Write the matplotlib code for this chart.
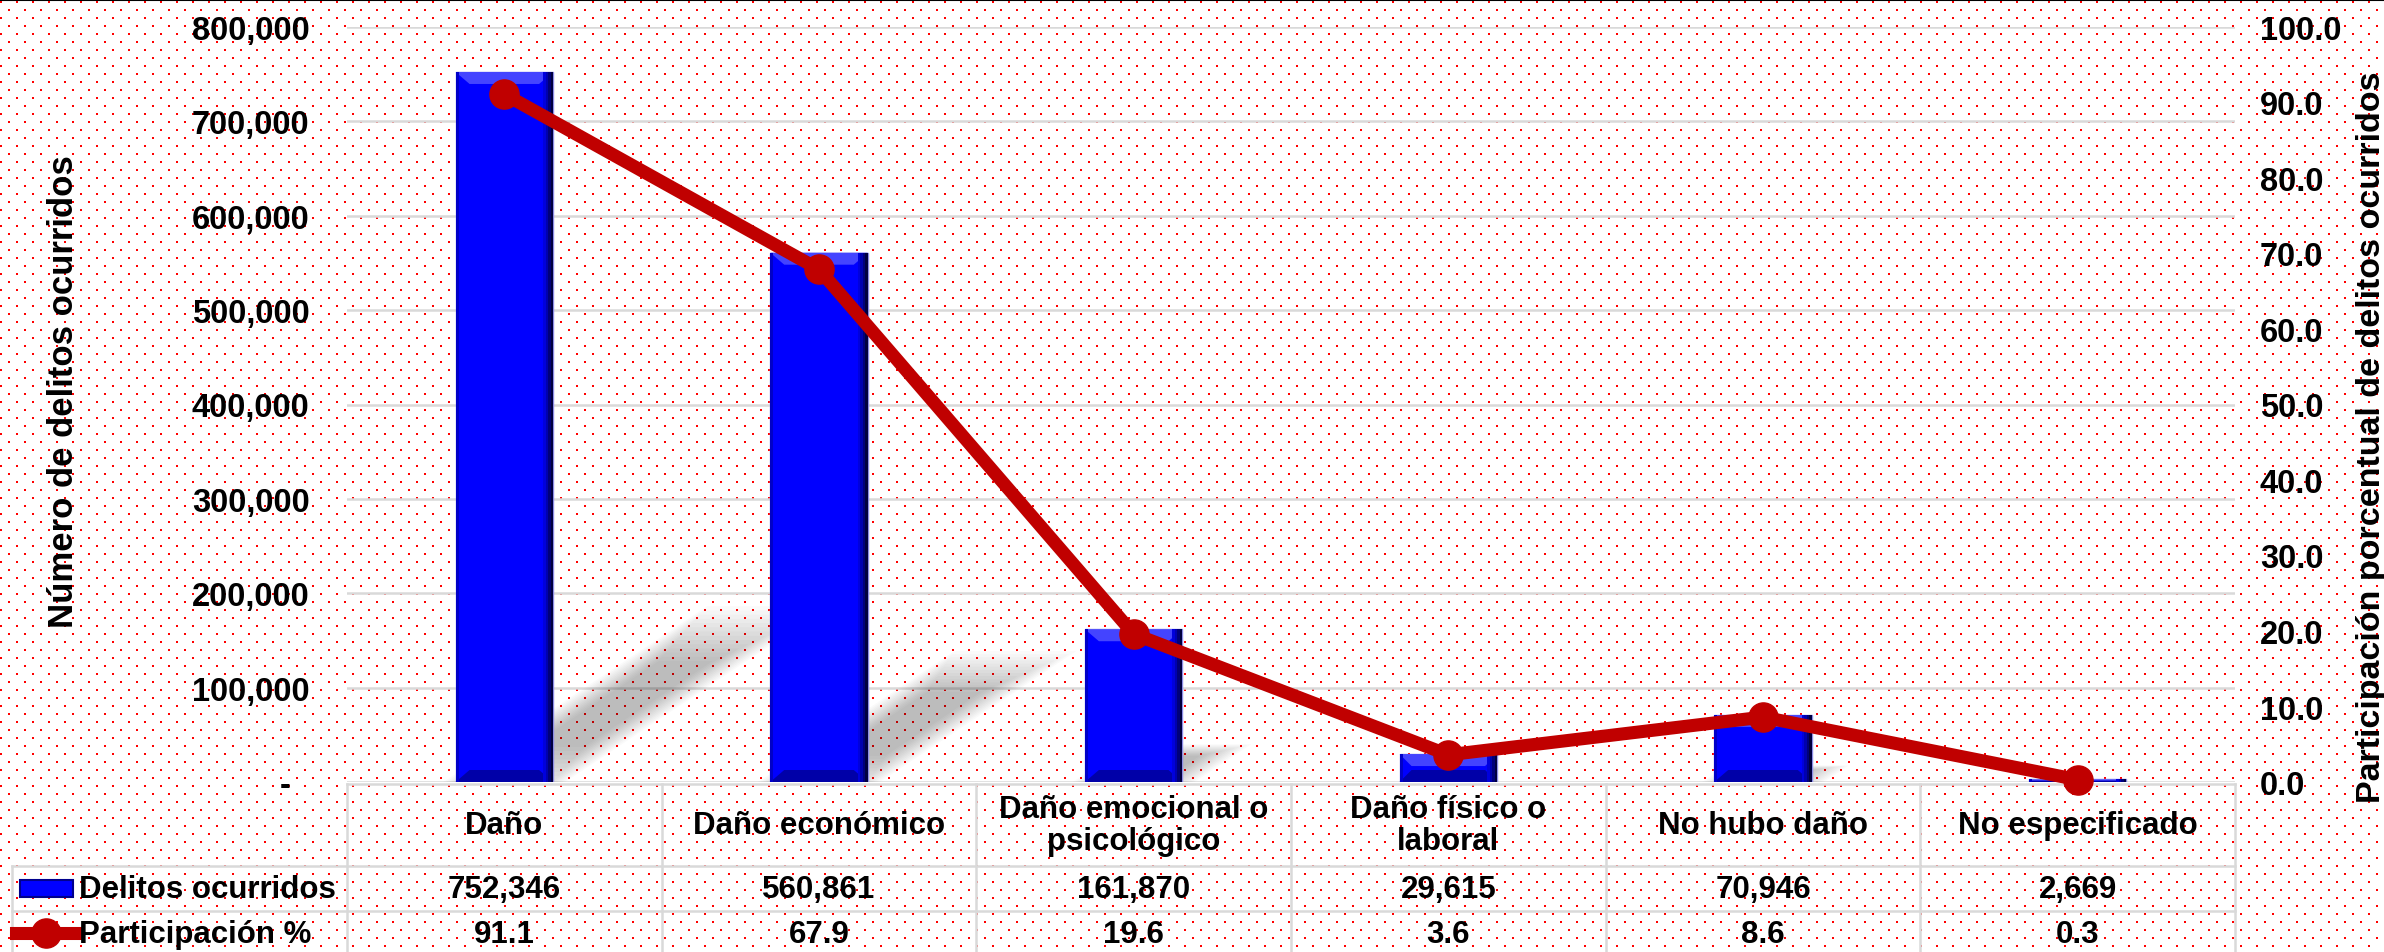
import numpy as np
import matplotlib
matplotlib.use("Agg")
import matplotlib.pyplot as plt
from matplotlib.patches import Polygon, Rectangle
from matplotlib.lines import Line2D
from matplotlib.transforms import blended_transform_factory

plt.rcParams['font.family'] = ['Liberation Sans', 'DejaVu Sans']
plt.rcParams['font.weight'] = 'bold'

## data
categorias = ["Daño", "Daño económico", "Daño emocional o\npsicológico",
              "Daño físico o\nlaboral", "No hubo daño", "No especificado"]
delitos = [752346, 560861, 161870, 29615, 70946, 2669]
participacion = [91.1, 67.9, 19.6, 3.6, 8.6, 0.3]
serie_barras = "Delitos ocurridos"
serie_linea = "Participación %"

W, H = 2384, 953
fig = plt.figure(figsize=(W / 100, H / 100), dpi=100, facecolor="white")

# dotted red background
bg = np.ones((H, W, 4))
for k, y in enumerate(range(2, H, 8)):
    x0 = 0 if k % 2 == 0 else 8
    for x in range(x0, W, 16):
        bg[y:y + 2, x:x + 2, :3] = [1, 0, 0]
fig.figimage(bg, xo=0, yo=0, origin="upper", zorder=-5)
fig.add_artist(Line2D([0, 1], [1 - 1 / H, 1 - 1 / H], color="black", lw=1.5,
                      transform=fig.transFigure))

# axes geometry in pixels
ax_l, ax_r, ax_t, ax_b = 347, 2235, 28, 783
ax = fig.add_axes([ax_l / W, 1 - ax_b / H, (ax_r - ax_l) / W, (ax_b - ax_t) / H])
ax.set_zorder(1)
ax.patch.set_alpha(0)
x = np.arange(len(categorias))
ax.set_xlim(-0.5, len(categorias) - 0.5)
ax.set_ylim(0, 800000)
ax.set_yticks(np.arange(0, 800001, 100000))
ax.yaxis.set_major_formatter(lambda v, p: "-  " if v == 0 else f"{v:,.0f}")
ax.set_xticks([])
for s in ax.spines.values():
    s.set_visible(False)
ax.tick_params(axis="y", length=0, pad=27, labelsize=23.5)
ax.grid(axis="y", color="#D9D9D9", lw=1.8, zorder=0)
ax.set_axisbelow(True)
ax.set_ylabel("Número de delitos ocurridos", fontsize=25, fontweight="bold")
ax.yaxis.set_label_coords(-(ax_l - 80) / (ax_r - ax_l), 0.519)

pxx = (len(categorias)) / (ax_r - ax_l)   # data units per pixel
pxy = 800000 / (ax_b - ax_t)
bw = 0.31

# soft shadows
for xi, v in zip(x, delitos):
    hp = v / pxy
    if hp < 40:
        continue
    dx, dy = 0.33 * hp * pxx, 0.22 * hp * pxy
    base = np.array([[xi - bw / 2, 0], [xi + bw / 2, 0],
                     [xi + bw / 2 + dx, dy], [xi - bw / 2 + dx, dy]])
    c = base.mean(axis=0)
    for sc in np.linspace(1.25, 0.55, 14):
        ax.add_patch(Polygon(c + (base - c) * [sc, sc], closed=True,
                             color="black", alpha=0.018, lw=0, zorder=1))

# bevelled bars
for xi, v in zip(x, delitos):
    x0, x1 = xi - bw / 2, xi + bw / 2
    ax.add_patch(Rectangle((x0, 0), bw, v, facecolor="#0000FF",
                           edgecolor="#8C8CE6", lw=1, zorder=3))
    bt = min(12 * pxy, v / 2)
    bs = min(14 * pxx, bt / pxy * pxx) if v / pxy < 28 else 14 * pxx
    ax.add_patch(Polygon([[x0, v], [x1, v], [x1 - bs, v - bt], [x0 + bs, v - bt]],
                         color="#4444FF", lw=0, zorder=4))
    ax.add_patch(Polygon([[x0, 0], [x1, 0], [x1 - bs, bt], [x0 + bs, bt]],
                         color="#0000A8", lw=0, zorder=4))
    for j, col in enumerate(["#000040", "#00007A", "#0000B0", "#0000DD"]):
        ax.add_patch(Rectangle((x1 - (j + 1) * 2.5 * pxx, 0), 2.5 * pxx, v,
                               color=col, lw=0, zorder=4))
    ax.add_patch(Rectangle((x0, 0), 3 * pxx, v, color="#0000C8", lw=0, zorder=4))

# line on secondary axis
ax2 = ax.twinx()
ax2.set_zorder(2)
ax2.patch.set_alpha(0)
ax2.set_ylim(0, 100)
ax2.set_yticks(np.arange(0, 101, 10))
ax2.yaxis.set_major_formatter(lambda v, p: f"{v:.1f}")
for s in ax2.spines.values():
    s.set_visible(False)
ax2.tick_params(axis="y", length=0, pad=18, labelsize=23.5)
ax2.plot(x, participacion, color="#C00000", lw=9.4, marker="o", ms=21,
         solid_capstyle="round", zorder=5, clip_on=False)
ax2.set_ylabel("Participación porcentual de delitos ocurridos", fontsize=24.5,
               fontweight="bold")
ax2.yaxis.set_label_coords(1 + (2356 - ax_r) / (ax_r - ax_l), 0.458)

# data table
tr = blended_transform_factory(ax.transData, fig.transFigure)
fy = lambda py: 1 - py / H
gcol, glw = "#D9D9D9", 1.8
row_y = [785, 867, 912, 958]
for xi in range(len(categorias) + 1):
    xb = xi - 0.5
    fig.add_artist(Line2D([xb, xb], [fy(row_y[0]), fy(row_y[-1])], color=gcol, lw=glw,
                          transform=tr, clip_on=False))
for k, yy in enumerate(row_y[:-1]):
    xs = ax_l / W if k == 0 else 12 / W
    fig.add_artist(Line2D([xs, ax_r / W], [fy(yy), fy(yy)], color=gcol, lw=glw,
                          transform=fig.transFigure))
fig.add_artist(Line2D([12 / W, 12 / W], [fy(row_y[1]), fy(row_y[-1])], color=gcol,
                      lw=glw, transform=fig.transFigure))

for xi, cat, d, p in zip(x, categorias, delitos, participacion):
    fig.text(xi, fy(826), cat, transform=tr, ha="center", va="center",
             fontsize=22.5, fontweight="bold", linespacing=1.12)
    fig.text(xi, fy(890), f"{d:,}", transform=tr, ha="center", va="center",
             fontsize=22.5, fontweight="bold")
    fig.text(xi, fy(935), f"{p:.1f}", transform=tr, ha="center", va="center",
             fontsize=22.5, fontweight="bold")

fig.text(79 / W, fy(890), serie_barras, ha="left", va="center", fontsize=22.5,
         fontweight="bold")
fig.text(79 / W, fy(935), serie_linea, ha="left", va="center", fontsize=22.5,
         fontweight="bold")
fig.add_artist(Rectangle((20 / W, fy(898)), 53 / W, 17 / H, facecolor="#0000FF",
                         edgecolor="#00008C", lw=1.5, transform=fig.transFigure))
fig.add_artist(Line2D([16 / W, 76 / W], [fy(934), fy(934)], color="#C00000", lw=9.4,
                      transform=fig.transFigure))
fig.add_artist(Line2D([46 / W], [fy(934)], color="#C00000", marker="o", ms=21, lw=0,
                      transform=fig.transFigure))

fig.savefig("out.png", dpi=100, facecolor="white")
